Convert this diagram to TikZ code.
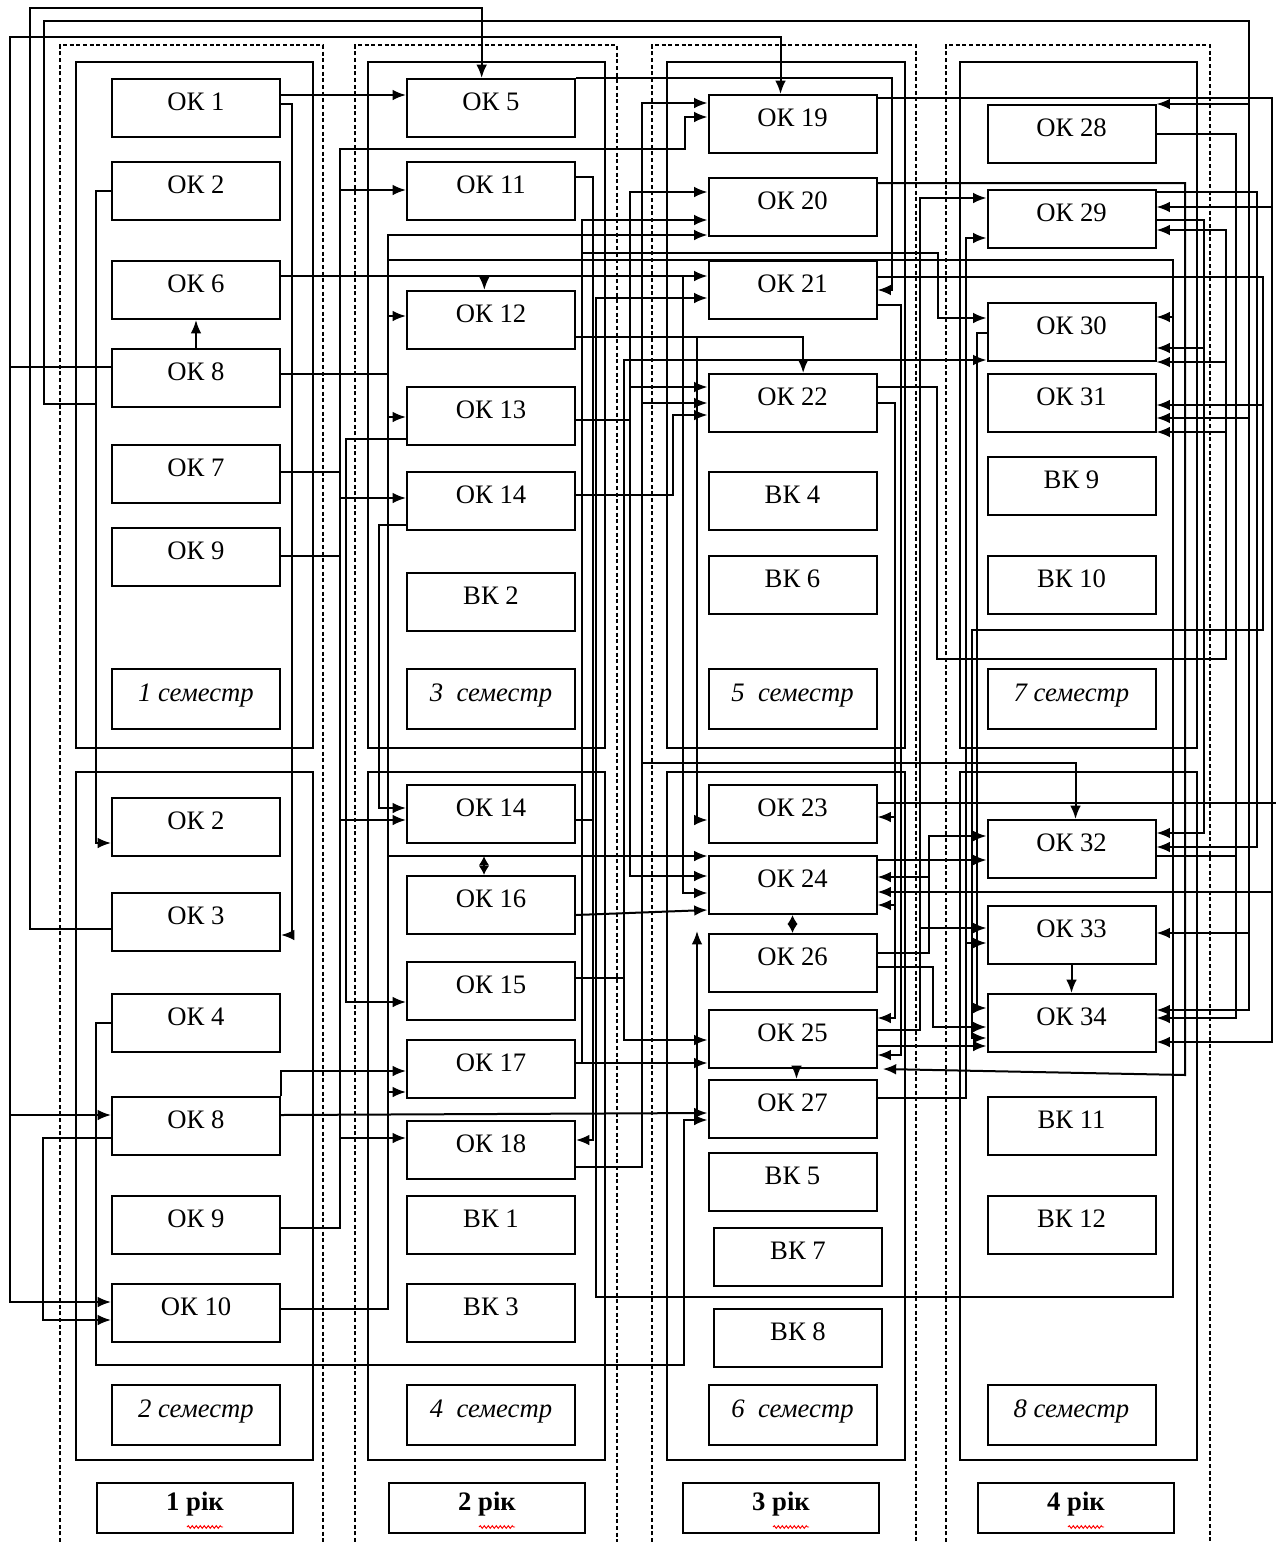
\documentclass[tikz,border=0pt]{standalone}
\usepackage{fontspec}
\setmainfont{Liberation Serif}
\usetikzlibrary{arrows.meta, calc, decorations.pathmorphing}

\begin{document}
\begin{tikzpicture}[x=0.75pt, y=-0.75pt, line width=1.5pt, >={Latex[length=10pt,width=8pt]},
  box/.style={draw, minimum width=126pt, minimum height=43.5pt, inner sep=0pt,
    text height=13pt, text depth=9pt, font=\fontsize{20}{22}\selectfont},
  sem/.style={box, minimum height=45pt, font=\fontsize{20}{22}\selectfont\itshape},
  yearbox/.style={box, minimum width=147pt, minimum height=37.5pt, font=\fontsize{20}{22}\selectfont\bfseries},
  yeardash/.style={line width=0.9pt, dash pattern=on 3pt off 2pt},
  dbl/.style={{Latex[length=7pt,width=8pt]}-{Latex[length=7pt,width=8pt]}},
  squig/.style={red, line width=0.7pt, decorate, decoration={snake, amplitude=1pt, segment length=3pt}}]
  \useasboundingbox (0,0) rectangle (1276,1542);

  % years and semesters
  \foreach \xa/\xb in {60/323, 355/617, 652/916, 946/1210}
    \draw[yeardash] (\xa,1542) -- (\xa,45) -- (\xb,45) -- (\xb,1542);
  \foreach \xa/\xb in {76/313, 368/605, 667/905, 960/1197} {
    \draw (\xa,62) rectangle (\xb,748);
    \draw (\xa,772) rectangle (\xb,1460);
  }

  % 1 year
  \node[box] (ok1) at (196,108) {ОК 1};
  \node[box] (ok2) at (196,191) {ОК 2};
  \node[box] (ok6) at (196,290) {ОК 6};
  \node[box] (ok8) at (196,378) {ОК 8};
  \node[box] (ok7) at (196,474) {ОК 7};
  \node[box] (ok9) at (196,557) {ОК 9};
  \node[sem] (s1) at (196,699) {1 семестр};
  \node[box] (ok2b) at (196,827) {ОК 2};
  \node[box] (ok3b) at (196,922) {ОК 3};
  \node[box] (ok4b) at (196,1023) {ОК 4};
  \node[box] (ok8b) at (196,1126) {ОК 8};
  \node[box] (ok9b) at (196,1225) {ОК 9};
  \node[box] (ok10b) at (196,1313) {ОК 10};
  \node[sem] (s2) at (196,1415) {2 семестр};
  \node[yearbox] (y1) at (195,1508) {1 рік};

  % 2 year
  \node[box] (ok5) at (491,108) {ОК 5};
  \node[box] (ok11) at (491,191) {ОК 11};
  \node[box] (ok12) at (491,320) {ОК 12};
  \node[box] (ok13) at (491,416) {ОК 13};
  \node[box] (ok14) at (491,501) {ОК 14};
  \node[box] (vk2) at (491,602) {ВК 2};
  \node[sem] (s3) at (491,699) {3~~семестр};
  \node[box] (ok14b) at (491,814) {ОК 14};
  \node[box] (ok16) at (491,905) {ОК 16};
  \node[box] (ok15) at (491,991) {ОК 15};
  \node[box] (ok17) at (491,1069) {ОК 17};
  \node[box] (ok18) at (491,1150) {ОК 18};
  \node[box] (vk1) at (491,1225) {ВК 1};
  \node[box] (vk3) at (491,1313) {ВК 3};
  \node[sem] (s4) at (491,1415) {4~~семестр};
  \node[yearbox] (y2) at (487,1508) {2 рік};

  % 3 year
  \node[box] (ok19) at (792.5,124) {ОК 19};
  \node[box] (ok20) at (792.5,207) {ОК 20};
  \node[box] (ok21) at (792.5,290) {ОК 21};
  \node[box] (ok22) at (792.5,403) {ОК 22};
  \node[box] (vk4) at (792.5,501) {ВК 4};
  \node[box] (vk6) at (792.5,585) {ВК 6};
  \node[sem] (s5) at (792.5,699) {5~~семестр};
  \node[box] (ok23) at (792.5,814) {ОК 23};
  \node[box] (ok24) at (792.5,885) {ОК 24};
  \node[box] (ok26) at (792.5,963) {ОК 26};
  \node[box] (ok25) at (792.5,1039) {ОК 25};
  \node[box] (ok27) at (792.5,1109) {ОК 27};
  \node[box] (vk5) at (792.5,1182) {ВК 5};
  \node[box] (vk7) at (798,1257) {ВК 7};
  \node[box] (vk8) at (798,1338) {ВК 8};
  \node[sem] (s6) at (792.5,1415) {6~~семестр};
  \node[yearbox] (y3) at (781,1508) {3 рік};

  % 4 year
  \node[box] (ok28) at (1071.5,134) {ОК 28};
  \node[box] (ok29) at (1071.5,219) {ОК 29};
  \node[box] (ok30) at (1071.5,332) {ОК 30};
  \node[box] (ok31) at (1071.5,403) {ОК 31};
  \node[box] (vk9) at (1071.5,486) {ВК 9};
  \node[box] (vk10) at (1071.5,585) {ВК 10};
  \node[sem] (s7) at (1071.5,699) {7 семестр};
  \node[box] (ok32) at (1071.5,849) {ОК 32};
  \node[box] (ok33) at (1071.5,935) {ОК 33};
  \node[box] (ok34) at (1071.5,1023) {ОК 34};
  \node[box] (vk11) at (1071.5,1126) {ВК 11};
  \node[box] (vk12) at (1071.5,1225) {ВК 12};
  \node[sem] (s8) at (1071.5,1415) {8 семестр};
  \node[yearbox] (y4) at (1076,1508) {4 рік};

  \foreach \n in {y1,y2,y3,y4}
    \draw[squig] ($(\n.center)+(-8,19)$) -- ($(\n.center)+(28,19)$);

  % left side
  \draw[->] (ok3b.west |- 0,929) -| (30,8) -| ([xshift=-7pt]ok5.north);
  \draw[->] (ok2.west) -| (96,843) -- (ok2b.west |- 0,843);
  \coordinate (j2) at (96,404);
  \draw[->] (j2) -| (44,21) -| (1249,1010) -- (ok34.east |- 0,1010);
  \draw[->] (1249,104) -- (ok28.north east);
  \draw[->] (1249,418) -- (ok31.east |- 0,418);
  \draw[->] (1249,933) -- (ok33.east |- 0,933);
  \draw[->] (ok8.west |- 0,367) -| (10,37) -| ([xshift=-9pt]ok19.north);
  \draw[->] (10,367) |- (ok8b.west |- 0,1115);
  \draw[->] (10,1115) |- (ok10b.west |- 0,1302);
  \draw[->] (ok8b.west |- 0,1138) -| (43,1320) -- (ok10b.west |- 0,1320);
  \draw[->] (ok4b.west) -| (96,1365) -| (684,1120) -- (ok27.west |- 0,1120);
  \draw[->] (697,1120) -- (697,931);

  % 1 year to 2 year
  \draw[->] (ok1.east |- 0,95) -- (ok5.west |- 0,95);
  \draw[->] (ok1.east |- 0,104) -| (292,935) -- (ok3b.east |- 0,935);
  \draw[->] (ok8.north) -- (ok6.south);
  \draw[->] (ok6.east |- 0,276) -- (ok21.west |- 0,276);
  \draw[->] ([xshift=-5pt]ok12.north |- 0,276) -- ([xshift=-5pt]ok12.north);
  \draw[->] (683,276) |- (ok24.west |- 0,893);
  \draw (ok8.east |- 0,374) -- (388,374);
  \draw[->] (ok10b.east |- 0,1309) -| (388,235) -- (ok20.west |- 0,235);
  \draw[->] (388,316) -- (ok12.west |- 0,316);
  \draw[->] (388,417) -- (ok13.west |- 0,417);
  \draw[->] (388,1092) -- (ok17.west |- 0,1092);
  \draw[->] (388,856) -- (ok24.west |- 0,856);
  \draw[dbl] (484,856) -- (ok16.north -| 484,0);
  \draw[->] (388,260) -| (1173,1297) -| (596,298) -- (ok21.west |- 0,298);
  \draw[->] (1173,317) -- (ok30.east |- 0,317);
  \draw[->] (ok9b.east |- 0,1228) -| (340,149) -| (685,117) -- (ok19.west |- 0,117);
  \draw (ok7.east |- 0,472) -- (340,472);
  \draw (ok9.east |- 0,556) -- (340,556);
  \draw[->] (340,190) -- (ok11.west |- 0,190);
  \draw[->] (340,498) -- (ok14.west |- 0,498);
  \draw[->] (340,820) -- (ok14b.west |- 0,820);
  \draw[->] (340,1138) -- (ok18.west |- 0,1138);
  \draw[->] (ok13.west |- 0,439) -| (346,1002) -- (ok15.west |- 0,1002);
  \draw[->] (ok14.west |- 0,525) -| (379,808) -- (ok14b.west |- 0,808);
  \draw[->] (ok8b.north east) |- (ok17.west |- 0,1071);
  \draw[->] (ok8b.east |- 0,1115) -- (ok27.west |- 0,1113);

  % 2 year to 3 year
  \draw[->] (ok5.north east) -| (892,290) -- (ok21.east |- 0,290);
  \draw[->] (ok18.east |- 0,1167) -| (642,103) -- (ok19.west |- 0,103);
  \draw[->] (642,403) -- (ok22.west |- 0,403);
  \draw[->] (642,763) -| ([xshift=3pt]ok32.north);
  \draw[->] (ok11.east |- 0,177) -| (593,1140) -- (ok18.east |- 0,1140);
  \draw (ok14b.east |- 0,820) -- (593,820);
  \draw[->] (ok13.east |- 0,420) -| (630,192) -- (ok20.west |- 0,192);
  \draw[->] (630,387) -- (ok22.west |- 0,387);
  \draw[->] (630,420) |- (ok24.west |- 0,876);
  \draw[->] (ok15.east |- 0,978) -| (624,360) -- (ok30.west |- 0,360);
  \draw[->] (624,978) |- (ok25.west |- 0,1040);
  \draw[->] (ok17.east |- 0,1063) -| (582,220) -- (ok20.west |- 0,220);
  \draw[->] (582,1063) -- (ok25.west |- 0,1063);
  \draw[->] (582,253) -| (938,318) -- (ok30.west |- 0,318);
  \draw[->] (ok12.east |- 0,337) -| ([xshift=8pt]ok22.north);
  \draw[->] (697,337) |- (ok23.west |- 0,820);
  \draw[->] (ok14.east |- 0,495) -| (673,415) -- (ok22.west |- 0,415);
  \draw[->] (ok16.east |- 0,915) -- (ok24.west |- 0,910);

  % 3 year to 4 year
  \draw[->] (ok22.east |- 0,403) -| (895,1018) -- (ok25.east |- 0,1018);
  \draw[->] (895,817) -- (ok23.east |- 0,817);
  \draw[->] (895,905) -- (ok24.east |- 0,905);
  \draw[->] (ok21.east |- 0,305) -| (901,1055) -- (ok25.east |- 0,1055);
  \draw[->] (ok25.east |- 0,1046) -- (ok34.west |- 0,1046);
  \draw[->] (ok25.east |- 0,1030) -| (920,198) -- (ok29.west |- 0,198);
  \draw[->] (920,928) -- (ok33.west |- 0,928);
  \draw[->] (ok30.west |- 0,333) -| (977,1008) -- (ok34.west |- 0,1008);
  \draw[->] (ok27.east |- 0,1098) -| (966,238) -- (ok29.west |- 0,238);
  \draw[->] (966,943) -- (ok33.west |- 0,943);
  \draw[->] (ok26.east |- 0,953) -| (929,836) -- (ok32.west |- 0,836);
  \draw[->] (ok26.east |- 0,967) -| (933,1027) -- (ok34.west |- 0,1027);
  \draw[->] (929,877) -- (ok24.east |- 0,877);
  \draw[->] (ok24.east |- 0,860) -- (ok32.west |- 0,860);
  \draw (ok23.east |- 0,803) -- (1276,803);
  \draw[->] (ok33.south) -- (ok34.north);
  \draw[dbl] (ok24.south) -- (ok26.north);
  \draw[->] ([xshift=3pt]ok25.south) -- ([xshift=3pt]ok27.north);
  \draw[->] (ok22.east |- 0,387) -| (937,659) -| (1226,230) -- (ok29.east |- 0,230);
  \draw[->] (1226,362) -- (ok30.east |- 0,362);
  \draw[->] (1226,432) -- (ok31.east |- 0,432);

  % right side
  \draw[->] (ok19.east |- 0,98) -| (1272,1042) -- (ok34.east |- 0,1042);
  \draw[->] (1272,207) -- (ok29.east |- 0,207);
  \draw[->] (1272,892) -- (ok24.east |- 0,892);
  \draw[->] (ok21.east |- 0,277) -| (1263,630) -| (972,1038) -- (ok34.west |- 0,1038);
  \draw[->] (1263,405) -- (ok31.east |- 0,405);
  \draw[->] (ok28.east |- 0,134) -| (1236,1018) -- (ok34.east |- 0,1018);
  \draw (ok32.east |- 0,856) -- (1236,856);
  \draw[->] (ok20.east |- 0,183) -| (1185,1075) -- ([xshift=4pt]ok25.south east);
  \draw[->] (ok29.east |- 0,220) -| (1204,833) -- (ok32.east |- 0,833);
  \draw[->] (1204,348) -- (ok30.east |- 0,348);
  \draw[->] (ok29.east |- 0,192) -| (1257,847) -- (ok32.east |- 0,847);
\end{tikzpicture}
\end{document}
